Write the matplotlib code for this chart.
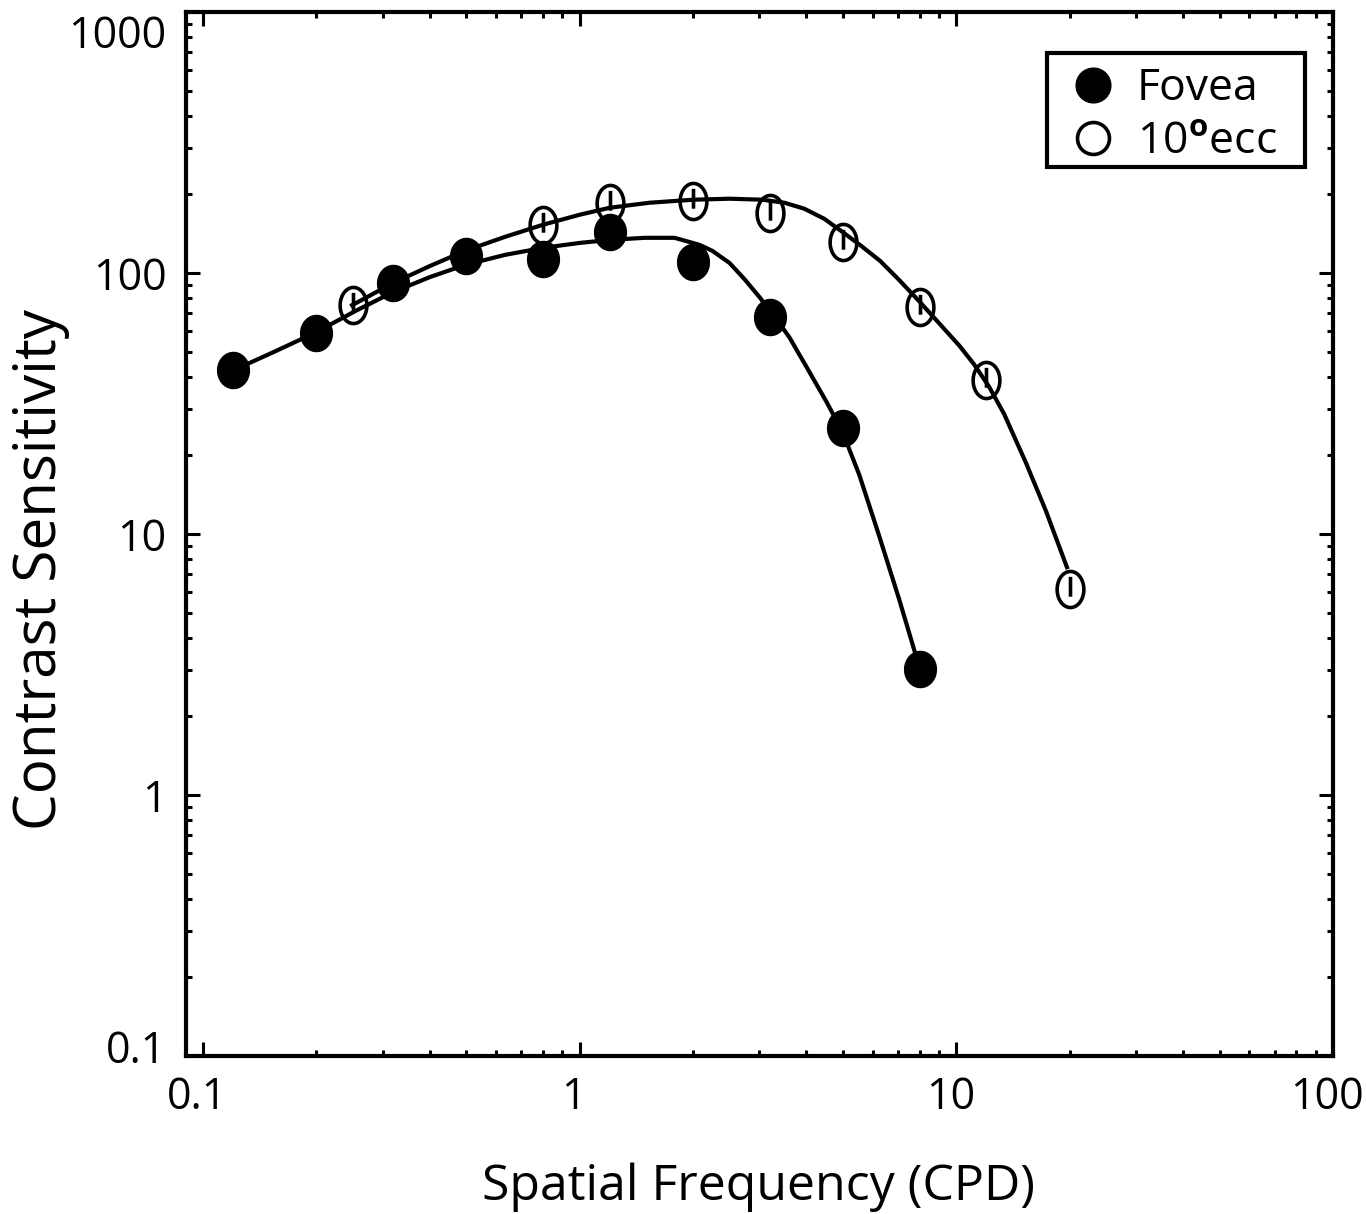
import numpy as np
import matplotlib
matplotlib.use("Agg")
import matplotlib.pyplot as plt
from matplotlib.path import Path
from matplotlib.lines import Line2D
from matplotlib.patches import Rectangle
from matplotlib.ticker import LogLocator, NullFormatter, FixedLocator, FixedFormatter
from matplotlib.transforms import ScaledTranslation

plt.rcParams['font.family'] = ['Open Sans', 'DejaVu Sans']
plt.rcParams['mathtext.fontset'] = 'custom'
plt.rcParams['mathtext.rm'] = 'Open Sans'
plt.rcParams['mathtext.bf'] = 'Open Sans:bold'

# measured contrast sensitivity
fovea_freq = [0.12, 0.2, 0.32, 0.5, 0.8, 1.2, 2.0, 3.2, 5.0, 8.0]
fovea_cs = [42.4, 58.8, 91.5, 116, 113, 144, 110, 67.7, 25.4, 3.05]
ecc_freq = [0.25, 0.8, 1.2, 2.0, 3.2, 5.0, 8.0, 12.0, 20.0]
ecc_cs = [75.3, 153, 186, 188, 170, 132, 74.0, 38.8, 6.13]

# fitted curves
fovea_fit_freq = [0.1203, 0.1554, 0.1996, 0.2533, 0.3195, 0.4004, 0.4957, 0.6328, 0.7979,
                  1.0, 1.201, 1.487, 1.786, 2.080, 2.252, 2.498, 2.737, 3.000, 3.287,
                  3.603, 4.022, 4.515, 4.980, 5.524, 6.240, 7.050, 7.964]
fovea_fit_cs = [42.35, 50.1, 59.3, 71.4, 84.5, 96.5, 107.3, 117.3, 124.8,
                130.4, 133.9, 136.4, 136.4, 128.2, 121.5, 109.3, 94.8, 80.9, 68.3,
                56.7, 43.1, 32.2, 24.7, 16.86, 9.82, 5.62, 3.11]
ecc_fit_freq = [0.2487, 0.3195, 0.4004, 0.4957, 0.6328, 0.7979, 1.0, 1.201, 1.533, 2.005,
                2.498, 3.055, 3.494, 3.948, 4.461, 4.980, 5.590, 6.278, 7.050, 7.964,
                8.998, 10.17, 11.14, 12.21, 13.38, 15.30, 17.29, 19.66]
ecc_fit_cs = [75.3, 91.5, 106.4, 121.5, 137.5, 153.0, 167.2, 177.8, 185.9, 190.9,
              192.6, 190.9, 185.9, 176.3, 161.3, 143.8, 127.0, 111.2, 94.0, 78.0,
              64.2, 52.8, 44.7, 36.7, 28.9, 18.75, 12.26, 7.46]

x_ticks = [0.1, 1, 10, 100]
x_ticklabels = ["0.1", "1", "10", "100"]
y_ticks = [0.1, 1, 10, 100, 1000]
y_ticklabels = ["0.1", "1", "10", "100", "1000"]

# slightly tall elliptical markers like the scanned figure
t = np.linspace(0, 2 * np.pi, 64)
dot = Path(np.column_stack([0.88 * np.cos(t), np.sin(t)]), closed=True)
ring = Path(np.column_stack([0.74 * np.cos(t), np.sin(t)]), closed=True)
ring_bar = Path.make_compound_path(ring, Path([[0, -0.4], [0, 0.7]]))

W, H = 1366, 1214
fig = plt.figure(figsize=(W / 100, H / 100), dpi=100)
ax = fig.add_axes([186 / W, 1 - 1056 / H, (1333 - 186) / W, (1056 - 12) / H])

ax.plot(fovea_fit_freq, fovea_fit_cs, color='black', lw=3.0, zorder=2,
        solid_joinstyle='round')
ax.plot(ecc_fit_freq, ecc_fit_cs, color='black', lw=3.0, zorder=2,
        solid_joinstyle='round')
ax.plot(fovea_freq, fovea_cs, ls='none', marker=dot, ms=26, color='black', zorder=3)
ax.plot(ecc_freq, ecc_cs, ls='none', marker=ring_bar, ms=26, mfc='none', mec='black',
        mew=2.6, zorder=3)

ax.set_xscale('log')
ax.set_yscale('log')
ax.set_xlim(0.0901, 100)
ax.set_ylim(0.1, 1000)

ax.xaxis.set_major_locator(FixedLocator(x_ticks))
ax.xaxis.set_major_formatter(FixedFormatter(x_ticklabels))
ax.yaxis.set_major_locator(FixedLocator(y_ticks))
ax.yaxis.set_major_formatter(FixedFormatter(y_ticklabels))
ax.xaxis.set_minor_locator(LogLocator(base=10, subs=range(2, 10)))
ax.yaxis.set_minor_locator(LogLocator(base=10, subs=range(2, 10)))
ax.xaxis.set_minor_formatter(NullFormatter())
ax.yaxis.set_minor_formatter(NullFormatter())

ax.tick_params(which='both', direction='in', top=True, right=True, width=2.2)
ax.tick_params(which='major', length=10, labelsize=31, pad=14)
ax.tick_params(which='minor', length=4.5)
for s in ax.spines.values():
    s.set_linewidth(3.0)

# nudge a few tick labels to where they sit in the original
for lab in ax.get_xticklabels():
    lab.set_transform(lab.get_transform() + ScaledTranslation(-6 / 100, 0, fig.dpi_scale_trans))
ylabs = ax.get_yticklabels()
ylabs[0].set_transform(ylabs[0].get_transform() + ScaledTranslation(0, 10 / 100, fig.dpi_scale_trans))
ylabs[-1].set_transform(ylabs[-1].get_transform() + ScaledTranslation(0, -19 / 100, fig.dpi_scale_trans))

fig.text(758 / W, 1 - 1200 / H, "Spatial Frequency (CPD)", ha='center', va='baseline',
         fontsize=36)
fig.text(41 / W, 1 - 570 / H, "Contrast Sensitivity", rotation=90, ha='center',
         va='center', fontsize=42)

# legend: entries without frame, box drawn separately so padding matches
handles = [
    Line2D([], [], ls='none', marker='o', ms=25, color='black'),
    Line2D([], [], ls='none', marker='o', ms=23, mfc='none', mec='black', mew=2.6),
]
ax.legend(handles, ["Fovea", r"10$^{\mathbf{o}}$ecc"], loc='upper left',
          bbox_to_anchor=(1047 / W, 1 - 60 / H), bbox_transform=fig.transFigure,
          borderaxespad=0, fontsize=32, frameon=False, handlelength=1.75,
          handletextpad=0.12, labelspacing=0.2, borderpad=0.15)
fig.add_artist(Rectangle((1047 / W, 1 - 167 / H), (1305 - 1047) / W, (167 - 53) / H,
                         transform=fig.transFigure, fill=False, lw=3.0, ec='black',
                         zorder=5))

fig.savefig("out.png", dpi=100)
